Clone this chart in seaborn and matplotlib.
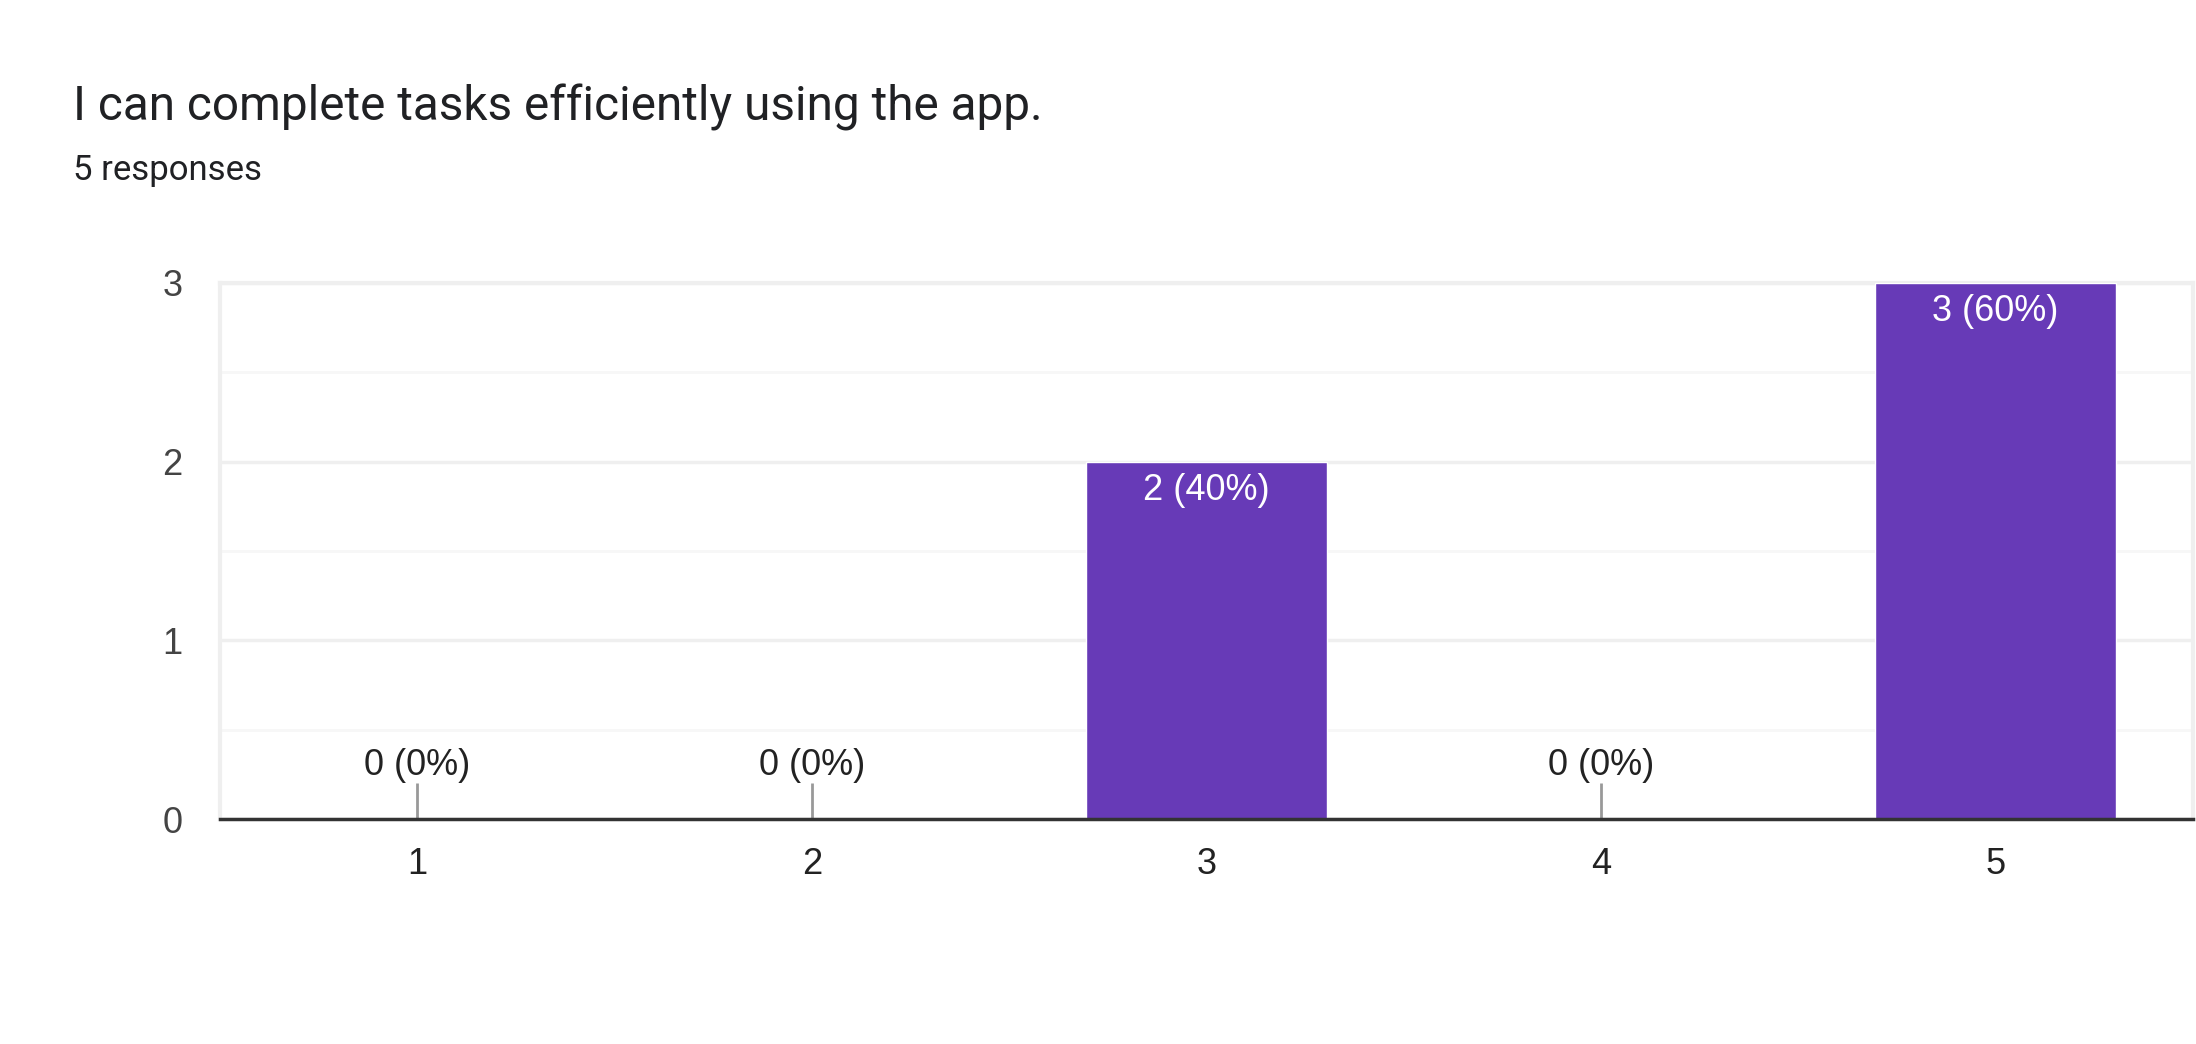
import numpy as np
import pandas as pd
import seaborn as sns
import matplotlib.pyplot as plt

sns.set_theme(style='white')
plt.rcParams['font.family'] = ['Liberation Sans', 'DejaVu Sans']

# Data
ratings = ['1', '2', '3', '4', '5']
counts = [0, 0, 2, 0, 3]
title = "I can complete tasks efficiently using the app."
subtitle = "5 responses"

total = sum(counts)
df = pd.DataFrame({'rating': ratings, 'count': counts})

purple = '#673ab7'
grid_major = '#efefef'
grid_minor = '#f7f7f7'

fig = plt.figure(figsize=(21.96, 10.44), dpi=100)
ax = fig.add_axes([0.1002, 0.2155, 0.8984, 0.5135])

sns.barplot(data=df, x='rating', y='count', color=purple, width=0.61,
            saturation=1, ax=ax, zorder=3)

ax.set_xlim(-0.5, len(ratings) - 0.5)
ax.set_ylim(0, 3)
ax.set_yticks([0, 1, 2, 3])
ax.set_yticks([0.5, 1.5, 2.5], minor=True)
ax.grid(axis='y', which='major', color=grid_major, lw=2.5, zorder=0)
ax.grid(axis='y', which='minor', color=grid_minor, lw=2, zorder=0)
ax.grid(axis='x', visible=False)

for side in ['left', 'right', 'top']:
    ax.spines[side].set_color(grid_major)
    ax.spines[side].set_linewidth(3)
ax.spines['bottom'].set_color('#333333')
ax.spines['bottom'].set_linewidth(2.5)
ax.spines['bottom'].set_zorder(5)

ax.tick_params(axis='y', length=0, pad=27, labelsize=26, labelcolor='#444444')
ax.tick_params(axis='x', length=0, pad=20, labelsize=26, labelcolor='#222222')
ax.set_xlabel('')
ax.set_ylabel('')

# value labels
for i, c in enumerate(counts):
    pct = round(100 * c / total)
    label = f"{c} ({pct}%)"
    if c == 0:
        ax.vlines(i, 0, 0.2, color='#999999', lw=2, zorder=4)
        ax.annotate(label, (i, 0.2), xytext=(0, 0), textcoords='offset points',
                    ha='center', va='bottom', fontsize=26, color='#222222')
    else:
        ax.annotate(label, (i, c), xytext=(0, -8), textcoords='offset points',
                    ha='center', va='top', fontsize=26, color='white', zorder=6)

fig.text(0.0333, 0.885, title, fontsize=34.4, color='#202124', ha='left',
         va='baseline', family='Roboto')
fig.text(0.0333, 0.828, subtitle, fontsize=25, color='#202124', ha='left',
         va='baseline', family='Roboto')

fig.savefig('out.png', dpi=100, facecolor='white')
